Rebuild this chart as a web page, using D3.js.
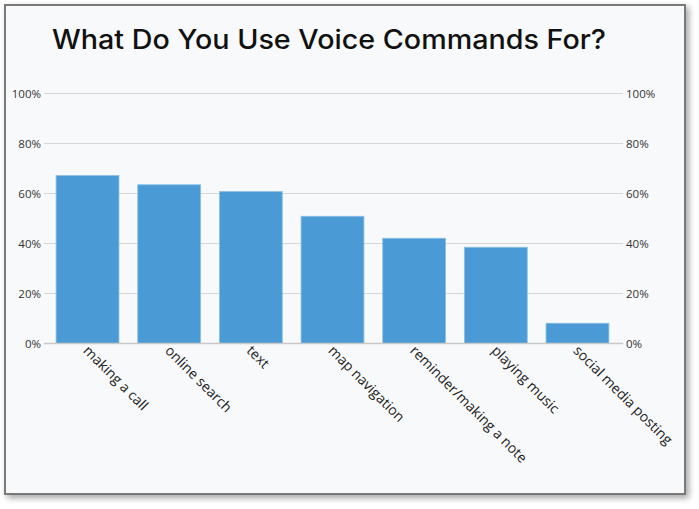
<!DOCTYPE html>
<html>
<head>
<meta charset="utf-8">
<script src="https://cdn.jsdelivr.net/npm/d3@7"></script>
<style>
html,body{margin:0;padding:0;background:#ffffff;}
svg{display:block;}
</style>
</head>
<body>
<svg id="chart" width="699" height="509"></svg>
<script>
const categories = ["making a call","online search","text","map navigation","reminder/making a note","playing music","social media posting"];
const values = [67.2, 63.5, 60.8, 50.9, 42.1, 38.5, 8.1];
const tickValues = [0, 20, 40, 60, 80, 100];
const title = "What Do You Use Voice Commands For?";

const svg = d3.select("#chart");
const defs = svg.append("defs");
const f = defs.append("filter").attr("id","shadow").attr("x","-5%").attr("y","-5%").attr("width","115%").attr("height","115%");
f.append("feDropShadow").attr("dx",3).attr("dy",3).attr("stdDeviation",3).attr("flood-color","#000").attr("flood-opacity",0.35);

// frame
svg.append("rect").attr("x",5).attr("y",5).attr("width",680).attr("height",489)
  .attr("fill","#f8f9fb").attr("stroke","#7a7a7a").attr("stroke-width",2)
  .attr("filter","url(#shadow)");

svg.append("text").attr("x",52).attr("y",49)
  .attr("font-family","Inter, Roboto, sans-serif").attr("font-weight",500)
  .attr("font-size",26.5).attr("fill","#111")
  .attr("textLength",554).attr("lengthAdjust","spacingAndGlyphs")
  .text(title);

const x = d3.scaleBand().domain(categories).range([46.7, 618.3]).paddingInner(0.23).paddingOuter(0.115);
const y = d3.scaleLinear().domain([0,100]).range([343.5, 93.5]);

const gridX1 = 44, gridX2 = 623;
svg.append("g").selectAll("line").data(tickValues.filter(d=>d>0)).join("line")
  .attr("x1",gridX1).attr("x2",gridX2).attr("y1",d=>y(d)).attr("y2",d=>y(d))
  .attr("stroke","#d6d6d6").attr("stroke-width",1);

svg.append("g").selectAll("rect").data(values).join("rect")
  .attr("x",(d,i)=>x(categories[i])).attr("width",x.bandwidth())
  .attr("y",d=>y(d)).attr("height",d=>y(0)-y(d))
  .attr("fill","#4a9bd5").attr("stroke","#8cc0e6").attr("stroke-width",0.8);

svg.append("line").attr("x1",gridX1).attr("x2",gridX2).attr("y1",y(0)).attr("y2",y(0))
  .attr("stroke","#c8c8c8").attr("stroke-width",1.5);

const fmt = d=>d+"%";
const leftAxis = d3.axisLeft(y).tickValues(tickValues).tickFormat(fmt).tickSize(0).tickPadding(3);
const gl = svg.append("g").attr("transform",`translate(${gridX1},0)`).call(leftAxis);
gl.select(".domain").remove();
gl.selectAll("text").attr("font-family","'Open Sans', sans-serif").attr("font-size",11.5).attr("fill","#333");

const rightAxis = d3.axisRight(y).tickValues(tickValues).tickFormat(fmt).tickSize(0).tickPadding(3);
const gr = svg.append("g").attr("transform",`translate(${gridX2},0)`).call(rightAxis);
gr.select(".domain").remove();
gr.selectAll("text").attr("font-family","'Open Sans', sans-serif").attr("font-size",11.5).attr("fill","#333");

const xAxis = d3.axisBottom(x).tickSize(0).tickPadding(0);
const gx = svg.append("g").attr("transform",`translate(0,${y(0)})`).call(xAxis);
gx.select(".domain").remove();
gx.selectAll("text")
  .attr("font-family","'Open Sans', sans-serif").attr("font-size",14).attr("fill","#222")
  .attr("text-anchor","start").attr("dy",null).attr("y",null)
  .attr("transform","translate(-5,8) rotate(45)");
</script>
</body>
</html>
